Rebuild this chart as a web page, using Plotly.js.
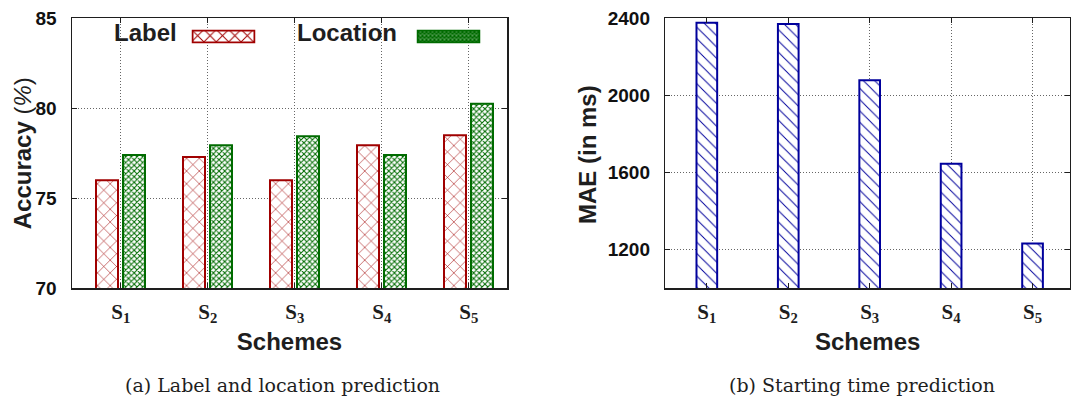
<!DOCTYPE html>
<html>
<head>
<meta charset="utf-8">
<script src="https://cdn.plot.ly/plotly-3.0.1.min.js"></script>
<style>html,body{margin:0;padding:0;background:#fff;}#chart{width:1071px;height:398px;}</style>
</head>
<body>
<div id="chart"></div>
<script>
// ---- data ----
const schemes = ['S1', 'S2', 'S3', 'S4', 'S5'];
const schemeTickText = ['<b>S<sub>1</sub></b>', '<b>S<sub>2</sub></b>', '<b>S<sub>3</sub></b>', '<b>S<sub>4</sub></b>', '<b>S<sub>5</sub></b>'];
const labelAccuracy = [76.0, 77.3, 76.0, 77.95, 78.5];
const locationAccuracy = [77.4, 77.95, 78.45, 77.4, 80.25];
const maeMs = [2377, 2370, 2079, 1646, 1232];
const accTicks = [70, 75, 80, 85];
const maeTicks = [1200, 1600, 2000, 2400];

// ---- style ----
const RED = '#a00000', GREEN = '#006b00', BLUE = '#00009c', INK = '#1e1e1e';
const SANS = 'Liberation Sans, Arial, Helvetica, sans-serif';
const SERIF = 'Liberation Serif, Times New Roman, serif';
const CAPTION = 'DejaVu Serif, serif';
const W = 1071, H = 398;
const px = v => v / W, py = v => 1 - v / H;
const bold = a => a.map(v => '<b>' + v + '</b>');

const traces = [
  {type: 'bar', x: schemes, y: labelAccuracy, name: 'Label', xaxis: 'x', yaxis: 'y',
   width: 0.253, offset: -0.284, showlegend: false,
   marker: {color: RED, line: {color: RED, width: 2},
            pattern: {shape: 'x', fgcolor: RED, bgcolor: 'white', size: 9, solidity: 0.12, fillmode: 'replace'}}},
  {type: 'bar', x: schemes, y: locationAccuracy, name: 'Location', xaxis: 'x', yaxis: 'y',
   width: 0.253, offset: 0.026, showlegend: false,
   marker: {color: GREEN, line: {color: GREEN, width: 2},
            pattern: {shape: 'x', fgcolor: GREEN, bgcolor: 'white', size: 4, solidity: 0.45, fillmode: 'replace'}}},
  {type: 'bar', x: schemes, y: maeMs, name: 'MAE', xaxis: 'x2', yaxis: 'y2',
   width: 0.254, offset: -0.127, showlegend: false,
   marker: {color: BLUE, line: {color: BLUE, width: 2},
            pattern: {shape: '\\', fgcolor: BLUE, bgcolor: 'white', size: 8, solidity: 0.12, fillmode: 'replace'}}}
];

const axCommon = {
  showline: true, linecolor: INK, linewidth: 1.5, mirror: 'ticks',
  ticks: 'inside', ticklen: 5, tickcolor: INK, tickwidth: 1,
  showgrid: true, gridcolor: '#666', griddash: '1px,2px', gridwidth: 1,
  zeroline: false, fixedrange: true
};
const xCommon = Object.assign({}, axCommon, {
  type: 'category', tickmode: 'array', tickvals: schemes, ticktext: schemeTickText,
  tickfont: {family: SERIF, size: 21, color: INK, weight: 'bold'}, ticklabelstandoff: 4,
  title: {text: '<b>Schemes</b>', font: {family: SANS, size: 24, color: INK}, standoff: 8}
});
const yTickFont = {family: SANS, size: 19, color: '#111', weight: 'bold'};

const layout = {
  width: W, height: H,
  margin: {l: 0, r: 0, t: 0, b: 0, pad: 0},
  paper_bgcolor: 'white', plot_bgcolor: 'white',
  barmode: 'overlay',
  showlegend: false,
  xaxis: Object.assign({}, xCommon, {domain: [px(72), px(507)], range: [-0.56, 4.44], anchor: 'y'}),
  yaxis: Object.assign({}, axCommon, {
    domain: [py(288.3), py(18.3)], range: [70, 85], tickmode: 'array', tickvals: accTicks, ticktext: bold(accTicks),
    anchor: 'x', tickfont: yTickFont, ticklabelstandoff: 10
  }),
  xaxis2: Object.assign({}, xCommon, {domain: [px(665.3), px(1070)], range: [-0.51, 4.46], anchor: 'y2'}),
  yaxis2: Object.assign({}, axCommon, {
    domain: [py(288.3), py(18.3)], range: [1000, 2400], tickmode: 'array', tickvals: maeTicks, ticktext: bold(maeTicks),
    anchor: 'x2', tickfont: yTickFont, ticklabelstandoff: 10
  }),
  shapes: [
    // opaque key box hiding grid behind the legend
    {type: 'rect', xref: 'paper', yref: 'paper', x0: px(73.5), x1: px(505.5), y0: py(47), y1: py(24),
     fillcolor: 'white', line: {width: 0}, layer: 'between'}
  ],
  annotations: [
    // y-axis titles
    {xref: 'paper', yref: 'paper', x: px(22), y: py(153.3), xanchor: 'center', yanchor: 'middle', showarrow: false, textangle: -90,
     text: '<b>Accuracy</b> (<i>%</i>)', font: {family: SANS, size: 24, color: INK}},
    {xref: 'paper', yref: 'paper', x: px(587), y: py(155), xanchor: 'center', yanchor: 'middle', showarrow: false, textangle: -90,
     text: '<b>MAE (in ms)</b>', font: {family: SANS, size: 24, color: INK}},
    // key
    {xref: 'paper', yref: 'paper', x: px(179), y: py(33), xanchor: 'right', yanchor: 'middle', showarrow: false,
     text: '<b>Label</b>', font: {family: SANS, size: 24, color: INK}},
    {xref: 'paper', yref: 'paper', x: px(399), y: py(33), xanchor: 'right', yanchor: 'middle', showarrow: false,
     text: '<b>Location</b>', font: {family: SANS, size: 24, color: INK}},
    // captions
    {xref: 'paper', yref: 'paper', x: px(282.5), y: py(384.5), xanchor: 'center', yanchor: 'middle', showarrow: false,
     text: '(a) Label and location prediction', font: {family: CAPTION, size: 19, color: INK}},
    {xref: 'paper', yref: 'paper', x: px(861.5), y: py(384.5), xanchor: 'center', yanchor: 'middle', showarrow: false,
     text: '(b) Starting time prediction', font: {family: CAPTION, size: 19, color: INK}}
  ]
};

function swatch(color, tile, sw) {
  const svg = "<svg xmlns='http://www.w3.org/2000/svg' width='64' height='14' viewBox='0 0 64 14'>" +
    "<defs><pattern id='p' width='" + tile + "' height='" + tile + "' patternUnits='userSpaceOnUse'>" +
    "<path d='M0,0L" + tile + "," + tile + "M" + tile + ",0L0," + tile + "' stroke='" + color + "' stroke-width='" + sw + "' fill='none'/></pattern></defs>" +
    "<rect x='1' y='1' width='62' height='12' fill='white'/>" +
    "<rect x='1' y='1' width='62' height='12' fill='url(#p)' stroke='" + color + "' stroke-width='2'/></svg>";
  return 'data:image/svg+xml;charset=utf-8,' + encodeURIComponent(svg);
}
layout.images = [
  {source: swatch(RED, 12.4, 1), xref: 'paper', yref: 'paper', x: px(191.5), y: py(29.5), sizex: px(64), sizey: 14 / H,
   xanchor: 'left', yanchor: 'top', sizing: 'stretch', layer: 'above'},
  {source: swatch(GREEN, 4, 1.6), xref: 'paper', yref: 'paper', x: px(416.5), y: py(29.5), sizex: px(64), sizey: 14 / H,
   xanchor: 'left', yanchor: 'top', sizing: 'stretch', layer: 'above'}
];

Plotly.newPlot('chart', traces, layout, {displayModeBar: false, staticPlot: true});
</script>
</body>
</html>
